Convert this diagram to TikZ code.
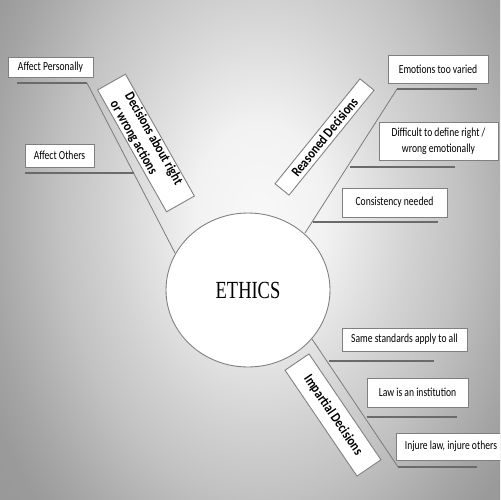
\documentclass[tikz,border=0pt]{standalone}
\usepackage{fontspec}
\usetikzlibrary{shapes.geometric}
\newfontfamily\boxfont[FakeStretch=0.78]{Carlito}
\newfontfamily\labfont[FakeStretch=0.84]{Carlito}
\newfontfamily\ethfont[FakeStretch=0.75]{Liberation Serif}
\definecolor{bgA}{HTML}{F8F8F8}
\definecolor{bgB}{HTML}{F2F2F2}
\definecolor{bgC}{HTML}{D2D2D2}
\definecolor{bgD}{HTML}{C2C2C2}
\definecolor{bgE}{HTML}{B0B0B0}
\definecolor{bgF}{HTML}{A5A5A5}
\definecolor{bgG}{HTML}{9A9A9A}
\definecolor{bgH}{HTML}{909090}
\definecolor{edge}{HTML}{7F7F7F}
\definecolor{hline}{HTML}{6A6A6A}
\definecolor{spine}{HTML}{7A7A7A}
\pgfdeclareradialshading{bgshade}{\pgfpoint{0bp}{0bp}}{color(0bp)=(bgA); color(6bp)=(bgB); color(14bp)=(bgC); color(18.5bp)=(bgD); color(22.5bp)=(bgE); color(25bp)=(bgF); color(28bp)=(bgG); color(50bp)=(bgH)}
\tikzset{
  leaf/.style={draw=edge, line width=0.5pt, fill=white, inner sep=0pt, align=center, font=\boxfont\fontsize{7}{9}\selectfont},
  branchbox/.style={draw=edge, line width=0.5pt, fill=white, inner sep=0pt, font=\labfont\bfseries\fontsize{8}{9.6}\selectfont},
  underline/.style={draw=hline, line width=0.75pt},
  spineline/.style={draw=spine, line width=0.45pt},
}
\begin{document}
\begin{tikzpicture}[x=0.02cm, y=-0.02cm]
\useasboundingbox (0,0) rectangle (500,500);
\begin{scope}
\clip (0,0) rectangle (500,500);
\shade[shading=bgshade] (-10,-165) rectangle (530,595);
\end{scope}

% centre
\node[ellipse, draw=edge, line width=0.5pt, fill=white, minimum width=3.28cm, minimum height=3.08cm, inner sep=0pt,
      font=\ethfont\fontsize{14}{16}\selectfont] (ethics) at (248,290) {ETHICS};

% ---------- left branch ----------
\coordinate (s1a) at (175,253);
\coordinate (s1b) at (87,83);
\coordinate (h1a) at (17,83);
\coordinate (h2a) at (25,173);
\coordinate (h2b) at (134,173);
\draw[spineline] (s1a) -- (s1b);
\draw[underline] (h1a) -- (s1b);
\draw[underline] (h2a) -- (h2b);
\node[leaf, minimum width=1.70cm, minimum height=0.40cm] (ap) at (50.5,67) {Affect Personally};
\node[leaf, minimum width=1.38cm, minimum height=0.46cm] (ao) at (59.5,155.5) {Affect Others};
\node[branchbox, rotate=-60.5, minimum width=2.80cm, minimum height=0.64cm, align=left] (dec) at (146,143)
  {Decisions about right\\or wrong actions};

% ---------- upper right branch ----------
\coordinate (s2a) at (305,233);
\coordinate (s2b) at (397,89);
\coordinate (h3b) at (477,89);
\coordinate (h4a) at (350,167);
\coordinate (h4b) at (455,167);
\coordinate (h5a) at (313,222);
\coordinate (h5b) at (438,222);
\draw[spineline] (s2a) -- (s2b);
\draw[underline] (s2b) -- (h3b);
\draw[underline] (h4a) -- (h4b);
\draw[underline] (h5a) -- (h5b);
\node[leaf, minimum width=2.00cm, minimum height=0.56cm] (emo) at (438,69) {Emotions too varied};
\node[leaf, minimum width=2.38cm, minimum height=0.76cm] (dif) at (438.5,141) {Difficult to define right /\\wrong emotionally};
\node[leaf, minimum width=2.10cm, minimum height=0.58cm] (con) at (394.5,202.5) {Consistency needed};
\node[branchbox, rotate=51, minimum width=2.70cm, minimum height=0.36cm] (rea) at (324.5,137) {Reasoned Decisions};

% ---------- lower right branch ----------
\coordinate (s3a) at (312,339);
\coordinate (s3b) at (398,467);
\coordinate (h6a) at (329,361);
\coordinate (h6b) at (434,361);
\coordinate (h7a) at (367,417);
\coordinate (h7b) at (457,417);
\coordinate (h8b) at (477,467);
\draw[spineline] (s3a) -- (s3b);
\draw[underline] (h6a) -- (h6b);
\draw[underline] (h7a) -- (h7b);
\draw[underline] (s3b) -- (h8b);
\node[leaf, minimum width=2.50cm, minimum height=0.46cm] (same) at (404.5,339.5) {Same standards apply to all};
\node[leaf, minimum width=2.02cm, minimum height=0.58cm] (law) at (417.5,392.5) {Law is an institution};
\begin{scope}
\clip (0,0) rectangle (500,500);
\node[leaf, minimum width=2.20cm, minimum height=0.54cm] (inj) at (451,446.5) {Injure law, injure others};
\end{scope}
\node[branchbox, rotate=-55.8, minimum width=2.56cm, minimum height=0.58cm] (imp) at (333,415) {Impartial Decisions};
\end{tikzpicture}
\end{document}
